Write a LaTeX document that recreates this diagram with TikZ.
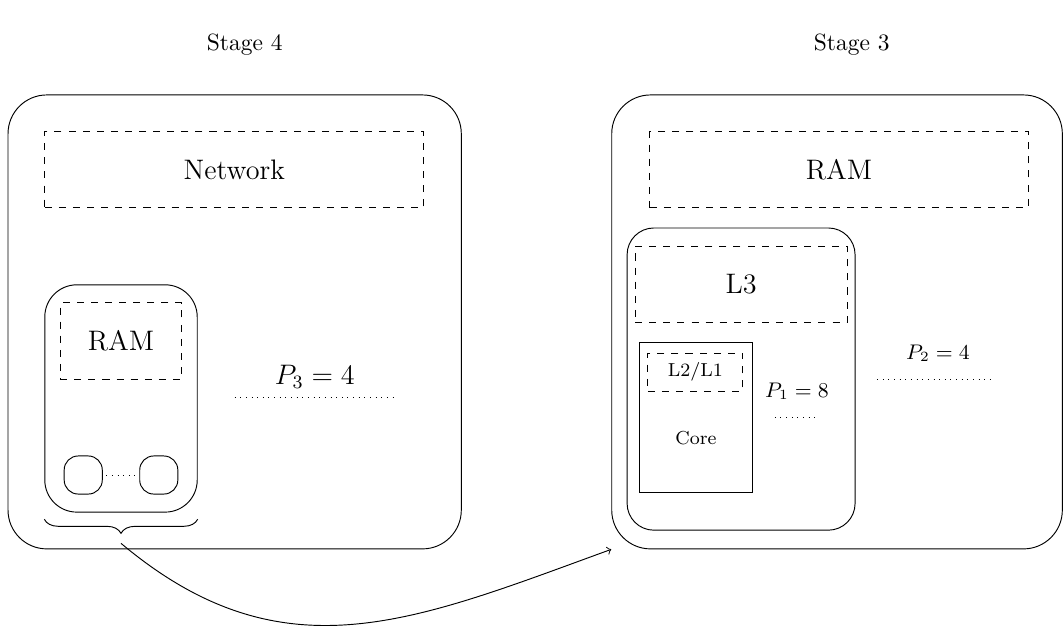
\documentclass[tikz,border=0pt]{standalone}
\usepackage{amsmath}
\usepackage{amssymb}
\usepackage{tikz}
\usetikzlibrary{arrows,positioning}
\usetikzlibrary{decorations.pathreplacing}

\begin{document}
\begin{tikzpicture}[
        outerbox/.style={draw, rounded corners=0.58cm, inner sep=0pt},
        membox/.style={draw, dashed, inner sep=0pt, font=\large},
        corebox/.style={draw, rounded corners=0.21cm, inner sep=0pt, minimum size=0.57cm}]
        \useasboundingbox (0,0) rectangle (15.9,-9.35);

        % stage 4
        \node at (3.66,-0.67) {Stage 4};
        \node[outerbox, minimum width=6.78cm, minimum height=6.79cm] (stage4) at (3.51,-4.815) {};
        \node[membox, minimum width=5.67cm, minimum height=1.14cm] (network) at (3.505,-2.54) {Network};
        \node[outerbox, rounded corners=0.48cm, minimum width=2.28cm, minimum height=3.40cm] (node4) at (1.81,-5.96) {};
        \node[membox, minimum width=1.82cm, minimum height=1.14cm] (ram4) at (1.81,-5.10) {RAM};
        \node[corebox] (cpu1) at (1.245,-7.105) {};
        \node[corebox] (cpu2) at (2.375,-7.105) {};
        \draw[dotted, shorten <=1.5pt, shorten >=1.5pt] (cpu1) -- (cpu2);
        \node[font=\large] (p3) at (4.71,-5.64) {$P_3 = 4$};
        \draw[dotted] (3.51,-5.95) -- (5.92,-5.95);
        \draw[decorate, decoration={brace, mirror, amplitude=6pt}]
            ([yshift=-0.1cm]node4.south west) -- ([yshift=-0.1cm]node4.south east);
        \coordinate (bracetip) at ([yshift=-0.46cm]node4.south);

        % stage 3
        \node at (12.74,-0.67) {Stage 3};
        \node[outerbox, minimum width=6.74cm, minimum height=6.79cm] (stage3) at (12.52,-4.815) {};
        \node[membox, minimum width=5.66cm, minimum height=1.14cm] (ram3) at (12.55,-2.54) {RAM};
        \node[outerbox, rounded corners=0.4cm, minimum width=3.41cm, minimum height=4.52cm] (socket) at (11.085,-5.67) {};
        \node[membox, minimum width=3.17cm, minimum height=1.14cm] (l3) at (11.085,-4.25) {L3};
        \node[draw, inner sep=0pt, minimum width=1.70cm, minimum height=2.25cm] (core) at (10.41,-6.245) {};
        \node[membox, font=\footnotesize, minimum width=1.42cm, minimum height=0.57cm] (l2) at (10.40,-5.565) {L2/L1};
        \node[font=\footnotesize] (corelabel) at (10.41,-6.55) {Core};
        \node[font=\small] (p1) at (11.92,-5.85) {$P_1 = 8$};
        \draw[dotted] (11.59,-6.25) -- (12.19,-6.25);
        \node[font=\small] (p2) at (14.03,-5.28) {$P_2 = 4$};
        \draw[dotted] (13.12,-5.67) -- (14.88,-5.67);

        \draw[->] (bracetip) to[out=-40, in=200, looseness=1.1] (stage3.south west);
\end{tikzpicture}
\end{document}
